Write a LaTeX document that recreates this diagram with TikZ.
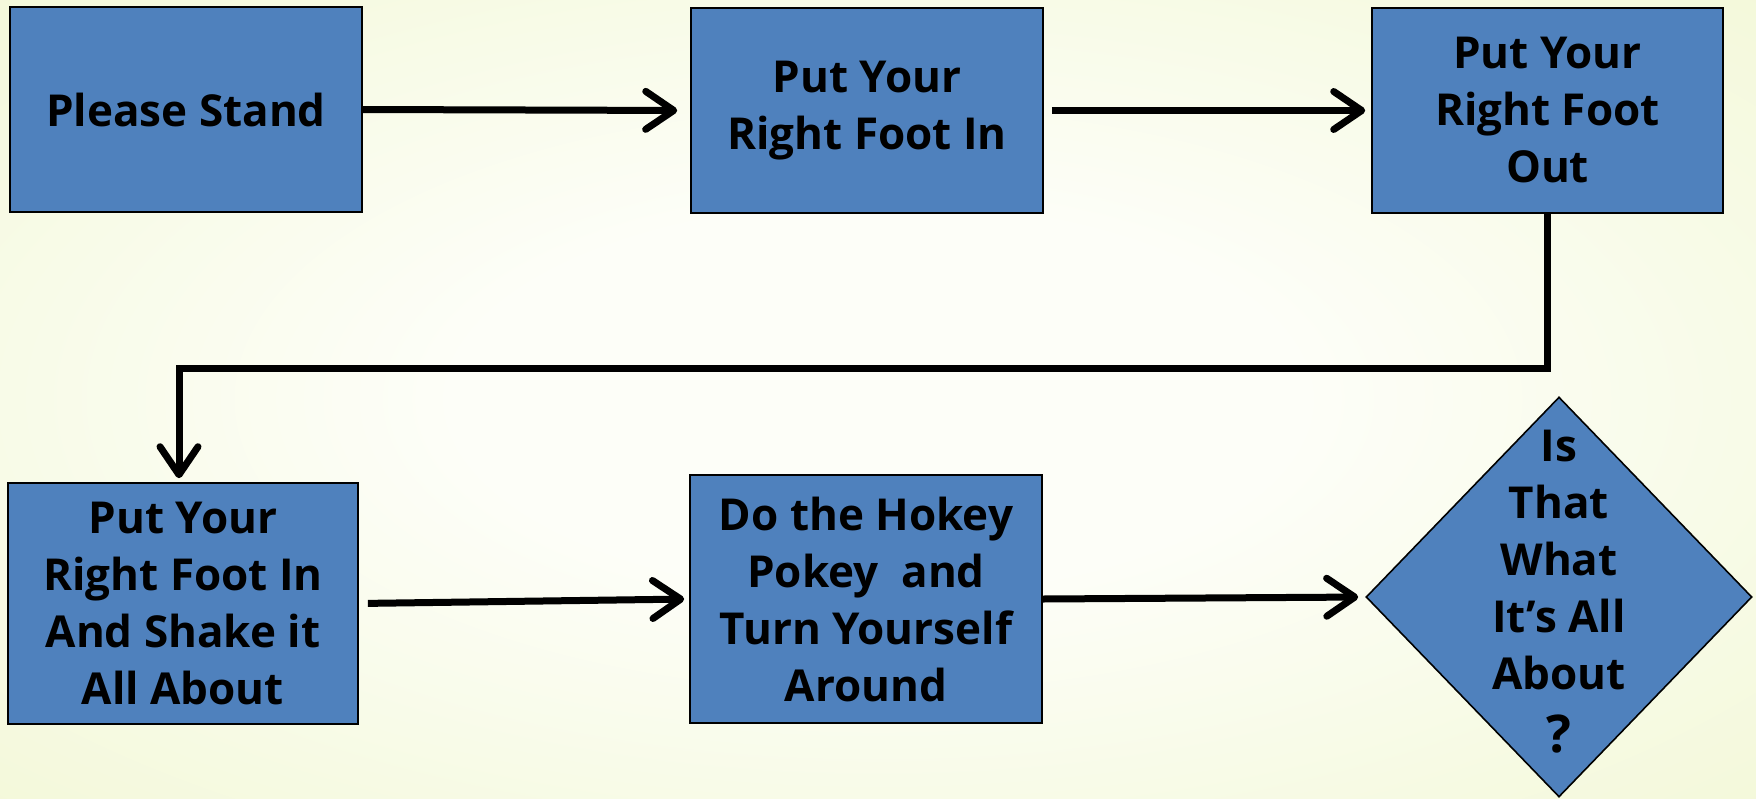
\documentclass[tikz,border=0pt]{standalone}
\usepackage{fontspec}
\setmainfont{Open Sans}
\usetikzlibrary{arrows.meta,shapes.geometric,calc}
\definecolor{bgouter}{RGB}{238,245,200}
\definecolor{bginner}{RGB}{253,254,248}
\definecolor{boxblue}{RGB}{79,129,189}
\pgfdeclareradialshading{bgshade}{\pgfpoint{0bp}{0bp}}{%
  color(0bp)=(bginner); color(12bp)=(bginner); color(50bp)=(bgouter); color(72bp)=(bgouter)}
\begin{document}
\begin{tikzpicture}[x=0.5pt,y=-0.5pt,
  stepbox/.style={draw=black, line width=0.8pt, fill=boxblue, align=center,
    inner sep=2pt, font=\fontsize{22}{28.5}\selectfont\bfseries},
  arr/.style={line width=3.5pt, -{Straight Barb[length=14pt,width=19pt,round]}}]
\useasboundingbox (0,0) rectangle (1756,798);
\shade[shading=bgshade] (0,0) rectangle (1756,798);

\node[stepbox, minimum width=176pt, minimum height=102.5pt] (b1) at (186,109.5) {Please Stand};
\node[stepbox, minimum width=176pt, minimum height=102.5pt] (b2) at (867,110.5) {Put Your\\Right Foot In};
\node[stepbox, minimum width=175.5pt, minimum height=102.5pt] (b3) at (1547.5,110.5) {Put Your\\Right Foot\\Out};
\node[stepbox, minimum width=175pt, minimum height=120.5pt] (b4) at (183,603.5) {Put Your\\Right Foot In\\And Shake it\\All About};
\node[stepbox, minimum width=176pt, minimum height=124pt] (b5) at (866,599) {Do the Hokey\\Pokey\ \ and\\Turn Yourself\\Around};
\node[draw=black, line width=0.8pt, fill=boxblue, diamond, inner sep=0pt,
  minimum width=193pt, minimum height=200pt] (dec) at (1559,597) {};
\node[align=center, font=\fontsize{22}{28.5}\selectfont\bfseries] (dectext) at (1559,592) {Is\\That\\What\\It’s All\\About\\[3pt]{\fontsize{26}{28.5}\selectfont ?}};

\coordinate (turn) at (179,368);
\draw[arr, shorten >=6.5pt] (b1.east) -- (b2.west);
\draw[arr, shorten <=4pt, shorten >=3pt] (b2.east) -- (b3.west);
\draw[arr, shorten >=2pt, line join=miter] (b3.south) -- (b3.south |- turn) -- (turn) -- (turn |- b4.north);
\draw[arr, shorten <=4.5pt, shorten >=2.5pt] (b4.east) -- (b5.west);
\draw[arr, shorten >=3.5pt] (b5.east) -- (dec.west);
\end{tikzpicture}
\end{document}
